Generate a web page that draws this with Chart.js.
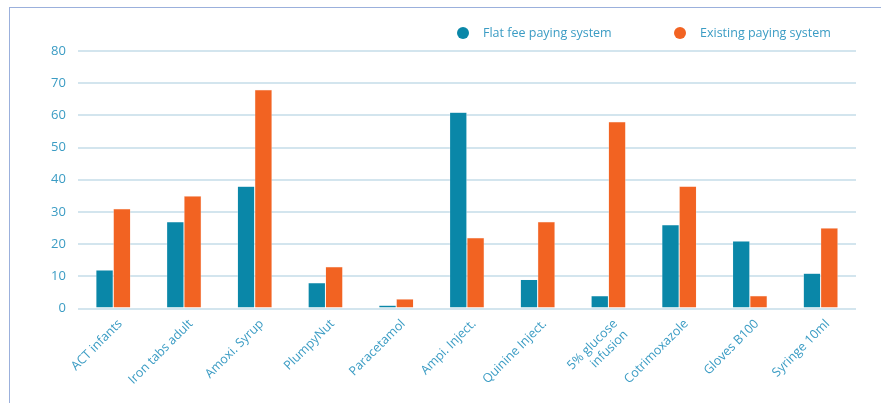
<!DOCTYPE html>
<html>
<head>
<meta charset="utf-8">
<script src="https://cdn.jsdelivr.net/npm/chart.js@4"></script>
<style>
  html, body { margin: 0; padding: 0; background: #fff; }
  #wrap { position: relative; width: 881px; height: 403px; }
  #frame { position: absolute; left: 9px; top: 7px; right: -2px; bottom: -2px;
           border: 1px solid #9bb0dc; }
  canvas { position: absolute; left: 0; top: 0; }
</style>
</head>
<body>
<div id="wrap">
  <div id="frame"></div>
  <canvas id="chart" width="881" height="403"></canvas>
</div>
<script>
const categories = ['ACT infants', 'Iron tabs adult', 'Amoxi. Syrup', 'PlumpyNut', 'Paracetamol',
    'Ampi. Inject.', 'Quinine Inject.', ['5% glucose', 'infusion'], 'Cotrimoxazole', 'Gloves B100', 'Syringe 10ml'];
const flatFee = [12, 27, 38, 8, 1, 61, 9, 4, 26, 21, 11];
const existing = [31, 35, 68, 13, 3, 22, 27, 58, 38, 4, 25];
const yTicks = [0, 10, 20, 30, 40, 50, 60, 70, 80];

const textColor = '#3b9cc4';
const gridColor = '#d3e5ee';
const fontFamily = 'Open Sans';

// legend drawn by hand: circle, wider gap before the text, fixed start positions
const legendX = [463, 680];
const legendY = 33;
const legendPlugin = {
    id: 'customLegend',
    afterDraw(chart) {
        const ctx = chart.ctx;
        ctx.save();
        ctx.font = '12.5px "' + fontFamily + '"';
        ctx.textBaseline = 'middle';
        ctx.textAlign = 'left';
        chart.data.datasets.forEach((ds, i) => {
            ctx.fillStyle = ds.backgroundColor;
            ctx.beginPath();
            ctx.arc(legendX[i], legendY, 6, 0, Math.PI * 2);
            ctx.fill();
            ctx.fillStyle = textColor;
            ctx.fillText(ds.label, legendX[i] + 20, legendY);
        });
        ctx.restore();
    }
};

new Chart(document.getElementById('chart'), {
    type: 'bar',
    data: {
        labels: categories,
        datasets: [{
            label: 'Flat fee paying system',
            data: flatFee,
            backgroundColor: '#0a87a8',
            borderColor: '#f4f8fa',
            borderWidth: 0.5,
            categoryPercentage: 0.49,
            barPercentage: 1
        }, {
            label: 'Existing paying system',
            data: existing,
            backgroundColor: '#f26322',
            borderColor: '#fbe0d4',
            borderWidth: 0.5,
            categoryPercentage: 0.49,
            barPercentage: 1
        }]
    },
    plugins: [legendPlugin],
    options: {
        responsive: false,
        animation: false,
        layout: { padding: { left: 39, right: 25, top: 51, bottom: 5 } },
        plugins: {
            legend: { display: false },
            tooltip: { enabled: false }
        },
        scales: {
            x: {
                grid: { display: false },
                border: { display: false },
                ticks: {
                    color: textColor,
                    minRotation: 45,
                    maxRotation: 45,
                    padding: 0,
                    labelOffset: 7,
                    font: { family: fontFamily, size: 12.5 }
                }
            },
            y: {
                min: 0,
                max: 80,
                afterBuildTicks: axis => { axis.ticks = yTicks.map(v => ({ value: v })); },
                grid: { color: gridColor, lineWidth: 2, drawTicks: false },
                border: { display: false },
                ticks: {
                    color: textColor,
                    padding: 12,
                    font: { family: fontFamily, size: 13 }
                }
            }
        }
    }
});
</script>
</body>
</html>
